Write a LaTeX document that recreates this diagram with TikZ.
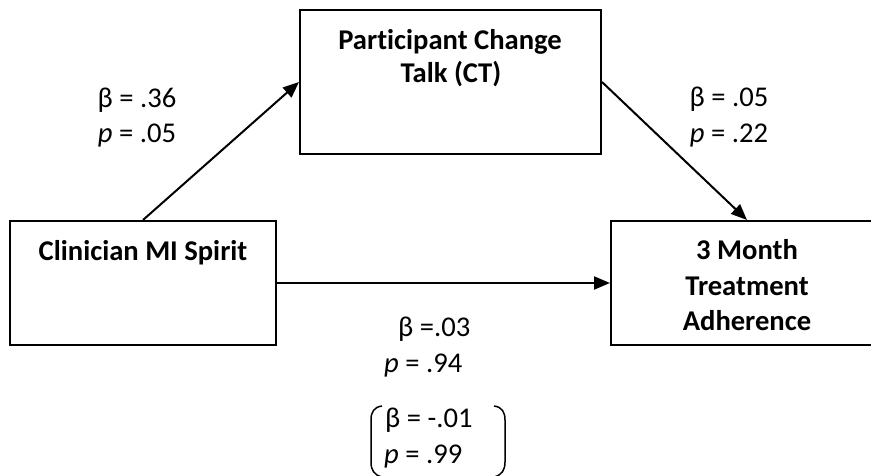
\documentclass[tikz,border=0pt]{standalone}
\usepackage{fontspec}
\setmainfont{Carlito}[Ligatures=NoCommon]
\usetikzlibrary{arrows.meta}
\begin{document}
\begin{tikzpicture}[x=1pt,y=-1pt,
  boxnode/.style={draw,line width=2pt,inner sep=0pt,rectangle},
  lbl/.style={anchor=base,inner sep=0pt,font=\fontsize{28.6pt}{35pt}\selectfont},
  bl/.style={lbl,font=\fontsize{28.6pt}{35pt}\selectfont\bfseries},
  lw/.style={lbl,anchor=base west},
  arr/.style={-{Triangle[length=16pt,width=13pt]},line width=2pt},
  brk/.style={line width=1.5pt}]
\useasboundingbox (0,0) rectangle (871,476);
\clip (0,0) rectangle (871,476);
% boxes
\node[boxnode,minimum width=301pt,minimum height=144pt] (ct) at (450.5,82) {};
\node[boxnode,minimum width=266pt,minimum height=124pt] (clin) at (143,283) {};
\node[boxnode,minimum width=272pt,minimum height=124pt] (adh) at (747,283) {};
% box texts
\node[bl] (ct1) at (450,50) {Participant Change};
\node[bl] (ct2) at (451,83) {Talk (CT)};
\node[bl] (cl1) at (143,261) {Clinician MI Spirit};
\node[bl] (ad1) at (747,259) {3 Month};
\node[bl] (ad2) at (747,295) {Treatment};
\node[bl] (ad3) at (747,330) {Adherence};
% arrows
\draw[arr] (clin.north) -- (ct.west);
\draw[arr] (ct.east) -- (adh.north);
\draw[arr] (clin.east) -- (adh.west);
% coefficients
\node[lbl] (b1) at (137,108) {β = .36};
\node[lbl] (p1) at (137,143) {\textit{p} = .05};
\node[lbl] (b2) at (729,107) {β = .05};
\node[lbl] (p2) at (729,143) {\textit{p} = .22};
\node[lw] (b3) at (398,336) {β =.03};
\node[lw] (p3) at (384,372) {\textit{p} = .94};
\node[lw] (b4) at (385,427) {β = -.01};
\node[lw] (p4) at (384,463) {\textit{p} = .99};
% brackets
\draw[brk] (494,406) .. controls (502,407) and (505,412) .. (505,420) -- (505,462) .. controls (505,470) and (502,475) .. (494,477);
\draw[brk] (382,406) .. controls (374,407) and (371,412) .. (371,420) -- (371,462) .. controls (371,470) and (374,475) .. (382,477);
\end{tikzpicture}
\end{document}
